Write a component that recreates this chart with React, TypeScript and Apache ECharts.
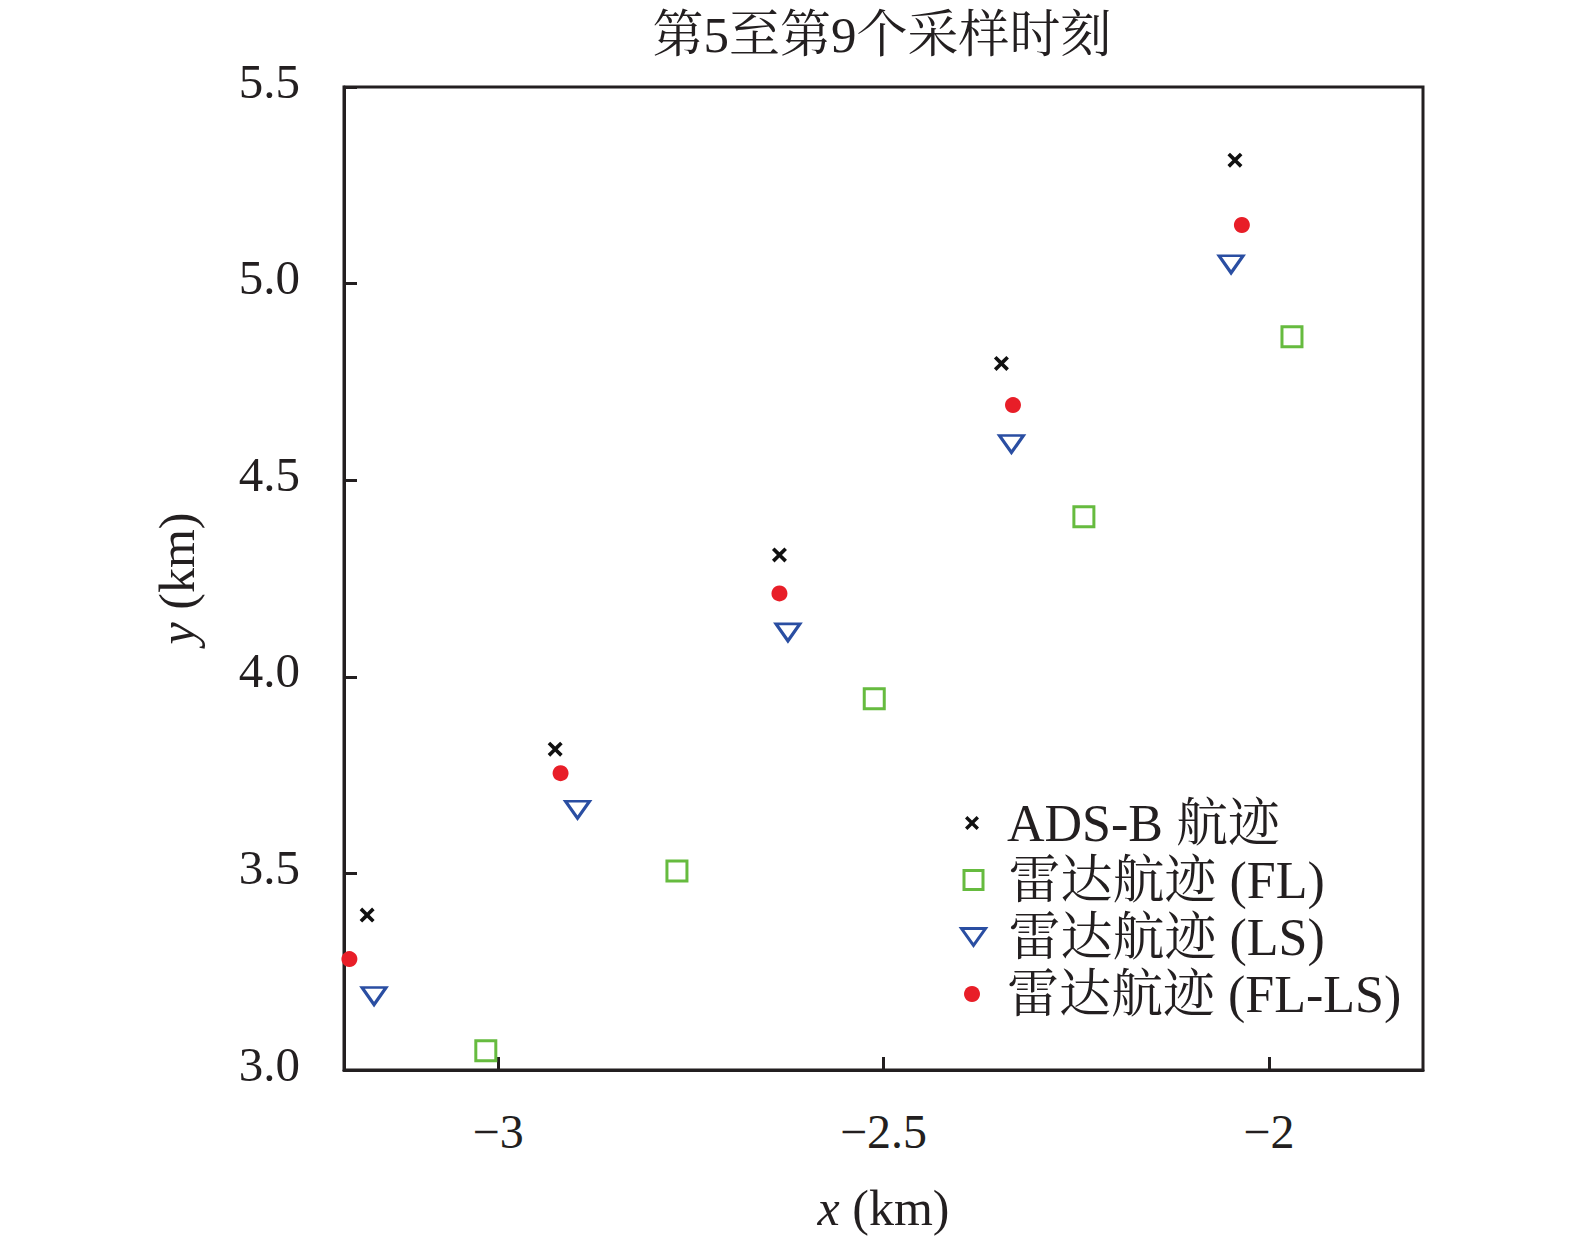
import React, { useEffect, useRef } from 'react';
import * as echarts from 'echarts';

const titleText = '第5至第9个采样时刻';
const seriesNames = ['ADS-B 航迹', '雷达航迹 (FL)', '雷达航迹 (LS)', '雷达航迹 (FL-LS)'];

const adsbX = [-3.170, -2.926, -2.635, -2.347, -2.044];
const adsbY = [3.394, 3.816, 4.310, 4.797, 5.314];
const flX = [-3.016, -2.768, -2.512, -2.240, -1.970];
const flY = [3.049, 3.506, 3.944, 4.407, 4.865];
const lsX = [-3.161, -2.897, -2.624, -2.334, -2.049];
const lsY = [3.188, 3.662, 4.113, 4.592, 5.049];
const fllsX = [-3.193, -2.919, -2.635, -2.332, -2.035];
const fllsY = [3.282, 3.755, 4.212, 4.691, 5.149];

const xTickValues = [-3, -2.5, -2];
const xMin = -3.2;
const xMax = -1.8;
const yMin = 3.0;
const yMax = 5.5;
const yStep = 0.5;

const FONT = "'Times New Roman', 'Liberation Serif', 'Noto Serif CJK SC', 'Noto Sans CJK SC', serif";
const INK = '#231f20';

const pairs = (xs: number[], ys: number[]) => xs.map((x, i) => [x, ys[i]]);

const crossPath =
  'path://M1.7,0 L5,3.3 L8.3,0 L10,1.7 L6.7,5 L10,8.3 L8.3,10 L5,6.7 L1.7,10 L0,8.3 L3.3,5 L0,1.7 Z';
const downTriPath = 'path://M0,0 L10,0 L5,7 Z';

export default function App() {
  const ref = useRef<HTMLDivElement>(null);
  useEffect(() => {
    if (!ref.current) return;
    const chart = echarts.init(ref.current, undefined, { renderer: 'svg' });

    const legendRows = [
      { name: seriesNames[0], w: 14, h: 14, cy: 823, bw: 0 },
      { name: seriesNames[1], w: 19, h: 19, cy: 880, bw: 3 },
      { name: seriesNames[2], w: 24, h: 17, cy: 937, bw: 3 },
      { name: seriesNames[3], w: 16, h: 16, cy: 994, bw: 0 },
    ];

    const option: any = {
      animation: false,
      backgroundColor: '#ffffff',
      title: {
        text: titleText,
        left: 882,
        top: 9,
        padding: 0,
        textAlign: 'center',
        textStyle: { fontFamily: FONT, fontSize: 51, fontWeight: 'normal', color: INK },
      },
      legend: legendRows.map((r) => ({
        data: [r.name],
        orient: 'vertical',
        left: 972 - r.w / 2,
        top: r.cy - 26,
        padding: 0,
        itemWidth: r.w,
        itemHeight: r.h,
        itemGap: 0,
        selectedMode: false,
        itemStyle: r.bw ? { borderWidth: r.bw } : {},
        textStyle: {
          fontFamily: FONT,
          fontSize: 52,
          color: INK,
          padding: [0, 0, 0, 1007 - (972 + r.w / 2 + 5)],
        },
      })),
      grid: {
        left: 344,
        right: 152,
        top: 87,
        bottom: 174,
        show: true,
        borderColor: INK,
        borderWidth: 3,
        backgroundColor: 'transparent',
      },
      xAxis: {
        type: 'value',
        min: xMin,
        max: xMax,
        name: '{i|x} (km)',
        nameLocation: 'middle',
        nameGap: 113,
        nameTextStyle: {
          fontFamily: FONT,
          fontSize: 50,
          color: INK,
          rich: { i: { fontFamily: FONT, fontSize: 50, fontStyle: 'italic', color: INK } },
        },
        axisLine: { show: true, onZero: false, lineStyle: { color: INK, width: 3 } },
        axisTick: {
          show: true,
          inside: true,
          length: 13,
          customValues: xTickValues,
          lineStyle: { color: INK, width: 3 },
        },
        axisLabel: {
          show: true,
          margin: 37,
          customValues: xTickValues,
          fontFamily: FONT,
          fontSize: 48,
          color: INK,
          formatter: (v: number) => String(v).replace('-', '\u2212'),
        },
        splitLine: { show: false },
      },
      yAxis: {
        type: 'value',
        min: yMin,
        max: yMax,
        interval: yStep,
        name: '{i|y} (km)',
        nameLocation: 'middle',
        nameGap: 142,
        nameTextStyle: {
          fontFamily: FONT,
          fontSize: 50,
          color: INK,
          rich: { i: { fontFamily: FONT, fontSize: 50, fontStyle: 'italic', color: INK } },
        },
        axisLine: { show: true, onZero: false, lineStyle: { color: INK, width: 3 } },
        axisTick: { show: true, inside: true, length: 13, lineStyle: { color: INK, width: 3 } },
        axisLabel: {
          show: true,
          margin: 44,
          fontFamily: FONT,
          fontSize: 49,
          color: INK,
          formatter: (v: number) => '{a|' + v.toFixed(1) + '}',
          rich: {
            a: { fontFamily: FONT, fontSize: 49, color: INK, padding: [0, 0, 12, 0] },
          },
        },
        splitLine: { show: false },
      },
      series: [
        {
          name: seriesNames[0],
          type: 'scatter',
          symbol: crossPath,
          symbolSize: 15,
          itemStyle: { color: '#111111', opacity: 1 },
          data: pairs(adsbX, adsbY),
        },
        {
          name: seriesNames[1],
          type: 'scatter',
          symbol: 'rect',
          symbolSize: 20,
          itemStyle: { color: '#ffffff', borderColor: '#66bb3f', borderWidth: 3, opacity: 1 },
          data: pairs(flX, flY),
        },
        {
          name: seriesNames[2],
          type: 'scatter',
          symbol: downTriPath,
          symbolSize: [24, 17],
          itemStyle: { color: '#ffffff', borderColor: '#2a4ea2', borderWidth: 3, opacity: 1 },
          data: pairs(lsX, lsY),
        },
        {
          name: seriesNames[3],
          type: 'scatter',
          symbol: 'circle',
          symbolSize: 16,
          itemStyle: { color: '#e81e28', opacity: 1 },
          data: pairs(fllsX, fllsY),
        },
      ],
    };

    chart.setOption(option);
    return () => chart.dispose();
  }, []);

  return (
    <div
      ref={ref}
      style={{ position: 'absolute', left: 0, top: 0, width: 1575, height: 1244, background: '#fff' }}
    />
  );
}
